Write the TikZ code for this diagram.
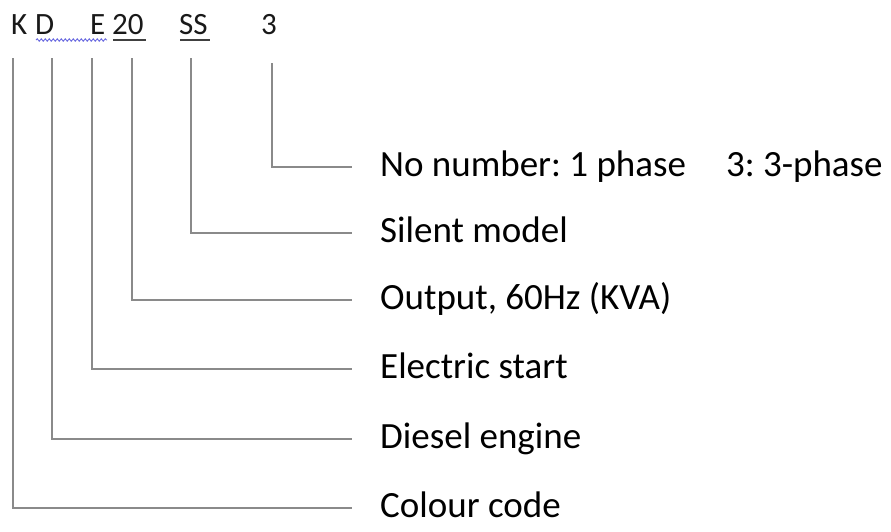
\documentclass[tikz,border=0pt]{standalone}
\usepackage{fontspec}
\setmainfont{Carlito}
\usetikzlibrary{decorations.pathmorphing}
\definecolor{linegray}{HTML}{8A8A8A}
\definecolor{wavyblue}{HTML}{6A6AE0}
\begin{document}
\frenchspacing
\begin{tikzpicture}[x=1pt,y=-1pt,
  conn/.style={draw=linegray,line width=2.4pt},
  lbl/.style={anchor=base west,inner sep=0pt,font=\fontsize{37}{41}\selectfont},
  hdr/.style={anchor=base west,inner sep=0pt,font=\fontsize{31}{35}\selectfont,text=black!90},
  uline/.style={draw=black!75,line width=2pt}]
\useasboundingbox (0,0) rectangle (891,531);
% header
\node[hdr] (hK) at (11,34) {K};
\node[hdr] (hD) at (35,34) {D};
\node[hdr] (hE) at (90,34) {E};
\node[hdr] (h20) at (112,34) {20};
\node[hdr] (hSS) at (179,34) {SS};
\node[hdr] (h3) at (261,34) {3};
\draw[draw=wavyblue,line width=0.9pt,decorate,decoration={snake,amplitude=1.2pt,segment length=4pt}] (36,40) -- (107,40);
\draw[uline] (113,39.5) -- (146,39.5);
\draw[uline] (180,39.5) -- (210,39.5);
% tops of lines
\coordinate (tK) at (13,58);
\coordinate (tD) at (52,58);
\coordinate (tE) at (92,58);
\coordinate (t20) at (132,58);
\coordinate (tSS) at (191,58);
\coordinate (t3) at (272,63);
% ends of lines
\coordinate (e1) at (352,167);
\coordinate (e2) at (352,233);
\coordinate (e3) at (352,300);
\coordinate (e4) at (352,369);
\coordinate (e5) at (352,439);
\coordinate (e6) at (352,508);
% labels
\node[lbl] (l1) at (380,176) {No number: 1 phase\hspace{40pt}3: 3-phase};
\node[lbl] (l2) at (380,242) {Silent model};
\node[lbl] (l3) at (380,309) {Output, 60Hz (KVA)};
\node[lbl] (l4) at (380,378) {Electric start};
\node[lbl] (l5) at (380,448) {Diesel engine};
\node[lbl] (l6) at (380,517) {Colour code};
% connectors
\draw[conn] (t3) |- (e1);
\draw[conn] (tSS) |- (e2);
\draw[conn] (t20) |- (e3);
\draw[conn] (tE) |- (e4);
\draw[conn] (tD) |- (e5);
\draw[conn] (tK) |- (e6);
\end{tikzpicture}
\end{document}
